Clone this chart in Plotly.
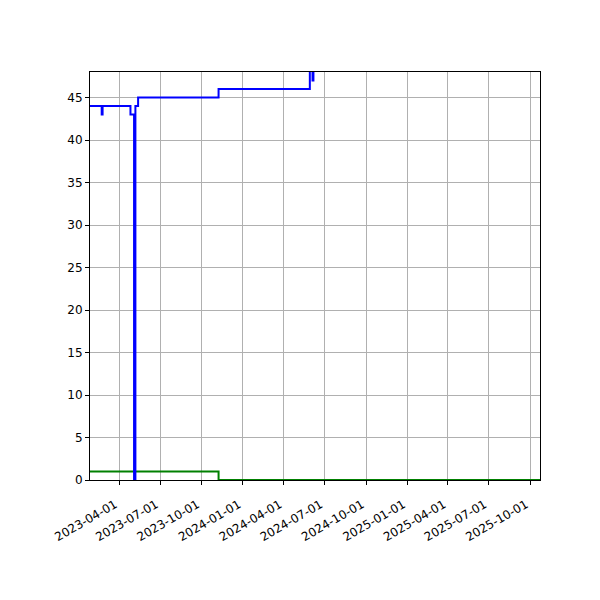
#!/usr/bin/env python3

# Step chart of two daily counts, redrawn with plotly
import plotly.graph_objects as go

# blue series: dates where the value changes, and the value from then on
blue_dates = ["2023-01-26", "2023-02-21", "2023-02-23", "2023-04-26", "2023-05-04",
              "2023-05-07", "2023-05-13", "2023-11-08", "2024-05-29", "2024-06-04",
              "2024-06-06", "2025-10-23"]
blue_vals = [44, 43, 44, 43, 0, 44, 45, 46, 49, 47, 49, 49]

# green series
green_dates = ["2023-01-26", "2023-11-08", "2025-10-23"]
green_vals = [1, 0, 0]

# axis ticks
x_ticks = ["2023-04-01", "2023-07-01", "2023-10-01", "2024-01-01", "2024-04-01",
           "2024-07-01", "2024-10-01", "2025-01-01", "2025-04-01", "2025-07-01",
           "2025-10-01"]
y_ticks = [0, 5, 10, 15, 20, 25, 30, 35, 40, 45]

fig = go.Figure()
fig.add_trace(go.Scatter(x=green_dates, y=green_vals, mode="lines", line_shape="hv",
	line=dict(color="#008000", width=2)))
fig.add_trace(go.Scatter(x=blue_dates, y=blue_vals, mode="lines", line_shape="hv",
	line=dict(color="#0000ff", width=2)))

axis_style = dict(showline=True, linecolor="black", linewidth=1, mirror=True,
	ticks="outside", ticklen=4, tickwidth=1, tickcolor="black",
	showgrid=True, gridcolor="#b0b0b0", gridwidth=1, zeroline=False)

fig.update_xaxes(range=["2023-01-26", "2025-10-23"], tickvals=x_ticks, ticktext=x_ticks,
	tickangle=-30, ticklabelstandoff=8, ticklabelshift=-4, **axis_style)
fig.update_yaxes(range=[0, 48], tickvals=y_ticks, **axis_style)

# the page adds 8px of body margin, so shift the plot area back by that
fig.update_layout(width=600, height=600, showlegend=False,
	plot_bgcolor="white", paper_bgcolor="white",
	font=dict(family="DejaVu Sans", size=12, color="black"),
	margin=dict(l=82, r=68, t=64, b=128))

fig.write_html("out.html")
